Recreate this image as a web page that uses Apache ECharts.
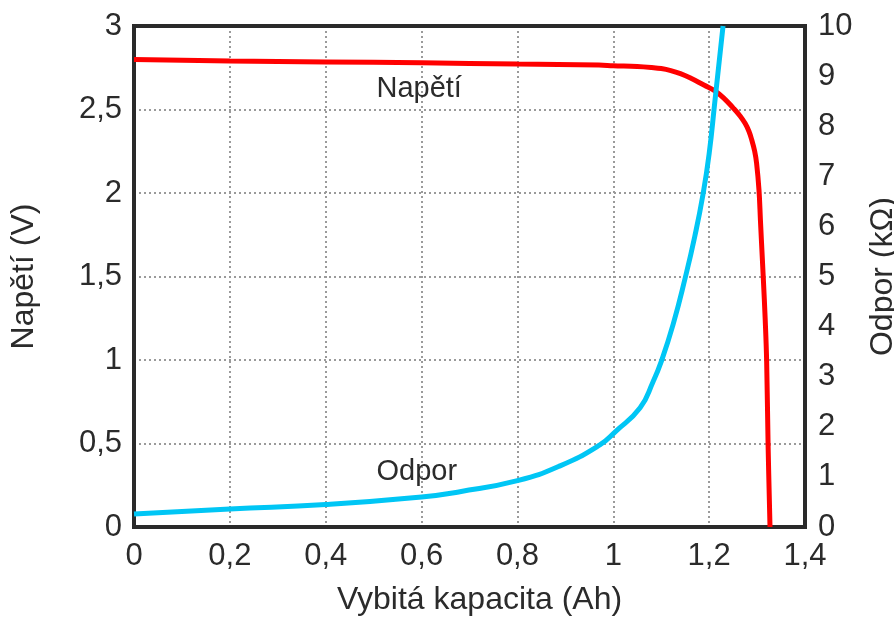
<!DOCTYPE html>
<html>
<head>
<meta charset="utf-8">
<script src="https://cdn.jsdelivr.net/npm/echarts@6/dist/echarts.min.js"></script>
<style>
  html, body { margin: 0; padding: 0; background: #fff; }
  #chart { width: 894px; height: 617px; }
</style>
</head>
<body>
<div id="chart"></div>
<script>
// Discharge curve: terminal voltage and internal resistance vs. discharged capacity
const capacityVoltage = [0, 0.2, 0.4, 0.6, 0.8, 0.97, 1.0, 1.05, 1.08, 1.1, 1.12, 1.14, 1.16, 1.19, 1.212, 1.23, 1.25, 1.265, 1.275, 1.283, 1.289, 1.295, 1.299, 1.304, 1.307, 1.309, 1.313, 1.317, 1.32, 1.323, 1.327];
const voltage =        [2.8, 2.79, 2.785, 2.78, 2.772, 2.766, 2.762, 2.757, 2.751, 2.745, 2.733, 2.715, 2.69, 2.645, 2.612, 2.57, 2.51, 2.46, 2.417, 2.37, 2.317, 2.25, 2.178, 2.018, 1.838, 1.719, 1.49, 1.24, 0.99, 0.49, 0];

const capacityResistance = [0, 0.2, 0.4, 0.6, 0.68, 0.8, 0.889, 0.972, 1.004, 1.056, 1.083, 1.1, 1.125, 1.15, 1.17, 1.187, 1.2, 1.212, 1.229];
const resistance =         [0.26, 0.36, 0.45, 0.6, 0.705, 0.925, 1.22, 1.64, 1.9, 2.38, 2.9, 3.3, 4.05, 4.97, 5.8, 6.63, 7.45, 8.5, 10];

const xTicks = { min: 0, max: 1.4, interval: 0.2 };
const voltageTicks = { min: 0, max: 3, interval: 0.5 };
const resistanceTicks = { min: 0, max: 10, interval: 1 };

const xName = 'Vybitá kapacita (Ah)';
const leftName = 'Napětí (V)';
const rightName = 'Odpor (kΩ)';
const voltageLabel = { text: 'Napětí', x: 0.595, y: 2.62 };
const resistanceLabel = { text: 'Odpor', x: 0.59, y: 1.1 };

const textColor = '#2b2b2b';
const frameColor = '#2a2a2a';
const font = 'Liberation Sans, Arial, Helvetica, sans-serif';
const comma = v => String(+v.toFixed(2)).replace('.', ',');

const chart = echarts.init(document.getElementById('chart'), null, { renderer: 'canvas' });

const gridLine = { show: true, showMinLine: false, showMaxLine: false, lineStyle: { color: '#9a9a9a', width: 2, type: [2, 3] } };
const frameLine = { show: true, onZero: false, lineStyle: { color: frameColor, width: 4, cap: 'square' } };

chart.setOption({
  animation: false,
  backgroundColor: '#ffffff',
  textStyle: { fontFamily: font },
  grid: {
    left: 134, right: 89, top: 26, bottom: 90,
    outerBoundsMode: 'none',
    containLabel: false
  },
  xAxis: [
    {
      type: 'value',
      min: xTicks.min, max: xTicks.max, interval: xTicks.interval,
      name: xName, nameLocation: 'middle', nameGap: 57,
      nameTextStyle: { fontSize: 32, color: textColor, fontFamily: font, padding: [0, 0, 0, 20] },
      axisLine: frameLine,
      axisTick: { show: false },
      axisLabel: { fontSize: 31, color: textColor, margin: 14, formatter: comma, fontFamily: font },
      splitLine: gridLine
    },
    {
      // top edge of the frame
      type: 'value',
      position: 'top',
      min: xTicks.min, max: xTicks.max, interval: xTicks.interval,
      axisLine: frameLine,
      axisTick: { show: false },
      axisLabel: { show: false },
      splitLine: { show: false }
    }
  ],
  yAxis: [
    {
      type: 'value',
      min: voltageTicks.min, max: voltageTicks.max, interval: voltageTicks.interval,
      name: leftName, nameLocation: 'middle', nameGap: 94, nameRotate: 90,
      nameTextStyle: { fontSize: 32, color: textColor, fontFamily: font },
      axisLine: frameLine,
      axisTick: { show: false },
      axisLabel: { fontSize: 31, color: textColor, margin: 12, formatter: comma, fontFamily: font },
      splitLine: gridLine
    },
    {
      type: 'value',
      position: 'right',
      min: resistanceTicks.min, max: resistanceTicks.max, interval: resistanceTicks.interval,
      name: rightName, nameLocation: 'middle', nameGap: 62, nameRotate: 90,
      nameTextStyle: { fontSize: 32, color: textColor, fontFamily: font },
      axisLine: frameLine,
      axisTick: { show: false },
      axisLabel: { fontSize: 31, color: textColor, margin: 13, formatter: comma, fontFamily: font },
      splitLine: { show: false }
    }
  ],
  series: [
    {
      name: 'Napětí',
      type: 'line',
      xAxisIndex: 0,
      yAxisIndex: 0,
      data: capacityVoltage.map((c, i) => [c, voltage[i]]),
      showSymbol: false,
      smooth: 0.4,
      lineStyle: { color: '#ff0000', width: 5 },
      z: 3,
      markPoint: {
        symbol: 'circle', symbolSize: 0,
        label: { show: true, position: 'inside', fontSize: 29, color: textColor, fontFamily: font, formatter: voltageLabel.text },
        data: [{ coord: [voltageLabel.x, voltageLabel.y] }]
      }
    },
    {
      name: 'Odpor',
      type: 'line',
      xAxisIndex: 0,
      yAxisIndex: 1,
      data: capacityResistance.map((c, i) => [c, resistance[i]]),
      showSymbol: false,
      smooth: 0.5,
      lineStyle: { color: '#00c6f5', width: 5 },
      z: 4,
      markPoint: {
        symbol: 'circle', symbolSize: 0,
        label: { show: true, position: 'inside', fontSize: 29, color: textColor, fontFamily: font, formatter: resistanceLabel.text },
        data: [{ coord: [resistanceLabel.x, resistanceLabel.y] }]
      }
    }
  ]
});
</script>
</body>
</html>
